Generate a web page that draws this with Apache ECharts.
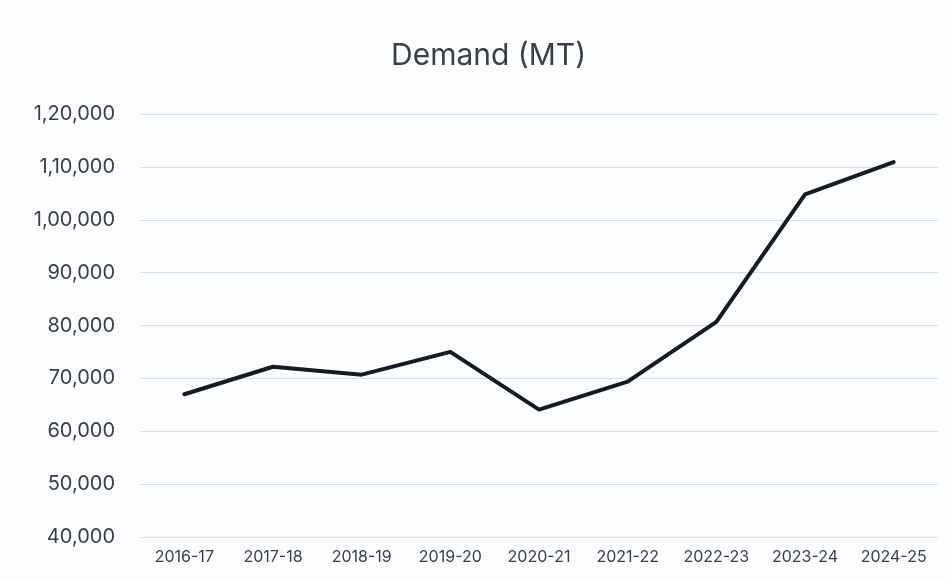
<!DOCTYPE html>
<html>
<head>
<meta charset="utf-8">
<script src="https://cdn.jsdelivr.net/npm/echarts@6/dist/echarts.min.js"></script>
<style>
  html, body { margin: 0; padding: 0; background: #fbfdfe; }
  #chart { width: 951px; height: 581px; }
</style>
</head>
<body>
<div id="chart"></div>
<script>
const years = ['2016-17', '2017-18', '2018-19', '2019-20', '2020-21', '2021-22', '2022-23', '2023-24', '2024-25']
const demand = [67000, 72200, 70700, 75000, 64100, 69400, 80700, 104800, 110900]

// indian digit grouping: 1,20,000
function inFmt (v) {
  let s = String(Math.round(v))
  if (s.length <= 3) return s
  let last = s.slice(-3)
  let rest = s.slice(0, -3).replace(/\B(?=(\d{2})+(?!\d))/g, ',')
  return rest + ',' + last
}

const chart = echarts.init(document.getElementById('chart'))
chart.setOption({
  backgroundColor: '#fbfdfe',
  title: {
    text: 'Demand (MT)',
    left: 386,
    top: 36,
    textStyle: {
      color: '#3a3f47',
      fontWeight: 'normal',
      fontSize: 30,
      fontFamily: 'Inter, "Noto Sans", sans-serif'
    }
  },
  grid: {
    left: 140,
    right: 13,
    top: 114,
    bottom: 44,
    containLabel: false
  },
  xAxis: {
    type: 'category',
    boundaryGap: true,
    data: years,
    axisLine: { show: false },
    axisTick: { show: false },
    axisLabel: {
      margin: 12,
      color: '#3a3f47',
      fontSize: 16,
      fontFamily: 'Inter, "Noto Sans", sans-serif'
    }
  },
  yAxis: {
    type: 'value',
    min: 40000,
    max: 120000,
    interval: 10000,
    axisLine: { show: false },
    axisTick: { show: false },
    splitLine: {
      lineStyle: { color: '#d3dfe9', width: 1 }
    },
    axisLabel: {
      margin: 25,
      color: '#3a3f47',
      fontSize: 20,
      fontFamily: 'Inter, "Noto Sans", sans-serif',
      formatter: inFmt
    }
  },
  series: [
    {
      name: 'Demand',
      type: 'line',
      data: demand,
      symbol: 'none',
      lineStyle: { color: '#161a24', width: 4, cap: 'round', join: 'round' }
    }
  ]
})
</script>
</body>
</html>
